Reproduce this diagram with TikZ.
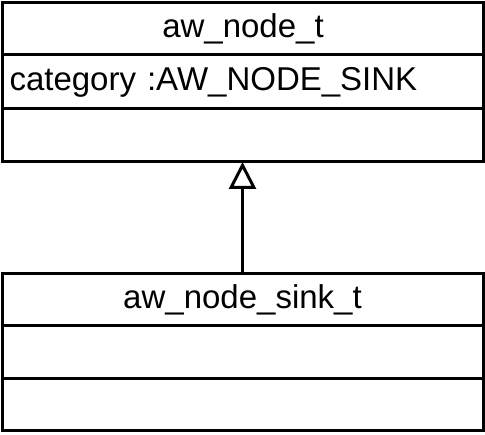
\documentclass[tikz,border=0pt]{standalone}
\usepackage{fontspec}
\setmainfont{Liberation Sans}
\usetikzlibrary{positioning,arrows.meta}
\begin{document}
\begin{tikzpicture}[x=1pt,y=-1pt,
  classpart/.style={draw,line width=3pt,minimum width=481pt,inner sep=0pt,outer sep=0pt,font=\fontsize{33}{38}\selectfont},
  attrpart/.style={classpart,text width=467pt,inner xsep=7pt,align=left}]
\useasboundingbox (0,0) rectangle (485,435);

% parent class
\node[classpart,minimum height=52pt] (parent) at (243,29) {aw\_node\_t};
\node[attrpart,minimum height=54pt,below=0pt of parent] (parentattr) {category :AW\_NODE\_SINK};
\node[classpart,minimum height=53pt,below=0pt of parentattr] (parentops) {};

% child class
\node[classpart,minimum height=52pt] (child) at (242.5,300) {aw\_node\_sink\_t};
\node[classpart,minimum height=53pt,below=0pt of child] (childattr) {};
\node[classpart,minimum height=52pt,below=0pt of childattr] (childops) {};

% generalization
\draw[line width=3pt,-{Triangle[open,length=27pt,width=27pt]}] (child.north) -- (child.north |- parentops.south);
\end{tikzpicture}
\end{document}
